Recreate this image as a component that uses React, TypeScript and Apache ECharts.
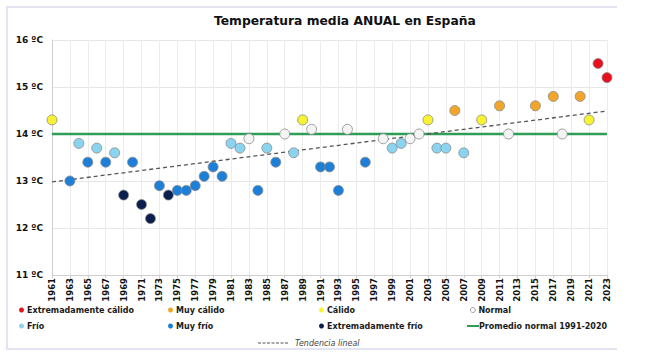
import React, { useEffect, useRef } from "react";
import * as echarts from "echarts";

const years: string[] = Array.from({ length: 63 }, (_, i) => String(1961 + i));

const extCalido: [string, number][] = [["2022", 15.5], ["2023", 15.2]];
const muyCalido: [string, number][] = [["2006", 14.5], ["2011", 14.6], ["2015", 14.6], ["2017", 14.8], ["2020", 14.8]];
const calido: [string, number][] = [["1961", 14.3], ["1989", 14.3], ["2003", 14.3], ["2009", 14.3], ["2021", 14.3]];
const normal: [string, number][] = [["1983", 13.9], ["1987", 14.0], ["1990", 14.1], ["1994", 14.1], ["1998", 13.9], ["2001", 13.9], ["2002", 14.0], ["2012", 14.0], ["2018", 14.0]];
const frio: [string, number][] = [["1964", 13.8], ["1966", 13.7], ["1968", 13.6], ["1981", 13.8], ["1982", 13.7], ["1985", 13.7], ["1988", 13.6], ["1999", 13.7], ["2000", 13.8], ["2004", 13.7], ["2005", 13.7], ["2007", 13.6]];
const muyFrio: [string, number][] = [["1963", 13.0], ["1965", 13.4], ["1967", 13.4], ["1970", 13.4], ["1973", 12.9], ["1975", 12.8], ["1976", 12.8], ["1977", 12.9], ["1978", 13.1], ["1979", 13.3], ["1980", 13.1], ["1984", 12.8], ["1986", 13.4], ["1991", 13.3], ["1992", 13.3], ["1993", 12.8], ["1996", 13.4]];
const extFrio: [string, number][] = [["1969", 12.7], ["1971", 12.5], ["1972", 12.2], ["1974", 12.7]];
const promedio: [string, number][] = [["1961", 14.0], ["2023", 14.0]];
const tendencia: [string, number][] = [["1961", 12.98], ["2023", 14.49]];

const FONT = "DejaVu Sans";
const DASH_ICON =
  "path://M0,0h3v1h-3z M4.5,0h3v1h-3z M9,0h3v1h-3z M13.5,0h3v1h-3z M18,0h3v1h-3z M22.5,0h3v1h-3z M27,0h3v1h-3z";

export default function App() {
  const ref = useRef<HTMLDivElement>(null);
  useEffect(() => {
    if (!ref.current) return;
    const chart = echarts.init(ref.current, undefined, { renderer: "svg" });
    const scatter = (name: string, data: [string, number][], color: string) => ({
      name,
      type: "scatter",
      data,
      symbol: "circle",
      symbolSize: 10,
      itemStyle: { color, borderColor: "#8a8a8a", borderWidth: 0.8, opacity: 1 },
      z: 5,
    });
    const legendBase = {
      selectedMode: false,
      itemWidth: 5,
      itemHeight: 5,
      itemGap: 0,
      padding: 0,
      itemStyle: { borderWidth: 0 },
      textStyle: { fontFamily: FONT, fontWeight: "bold", fontSize: 8, color: "#1a1a1a", padding: [0, 0, 0, -2] },
    };
    const leg = (name: string, left: number, top: number, itemStyle?: any) => ({
      ...legendBase,
      data: [{ name, icon: "circle", ...(itemStyle ? { itemStyle } : {}) }],
      left,
      top,
    });
    chart.setOption({
      animation: false,
      backgroundColor: "#ffffff",
      title: {
        text: "Temperatura media ANUAL en España",
        left: 214,
        top: 15,
        padding: 0,
        textStyle: { fontFamily: FONT, fontWeight: "bold", fontSize: 12.3, color: "#111" },
      },
      grid: { left: 52, right: 41, top: 40, bottom: 82, containLabel: false },
      xAxis: {
        type: "category",
        data: years,
        boundaryGap: false,
        axisLine: { show: true, lineStyle: { color: "#cfcfcf" } },
        axisTick: { show: true, interval: 1, length: 3, lineStyle: { color: "#cfcfcf" } },
        axisLabel: {
          interval: 1,
          rotate: 90,
          margin: 3,
          fontFamily: FONT,
          fontWeight: "bold",
          fontSize: 8.5,
          color: "#111",
        },
        splitLine: { show: true, interval: 1, lineStyle: { color: "#ececec", width: 1 } },
      },
      yAxis: {
        type: "value",
        min: 11,
        max: 16,
        interval: 1,
        axisLine: { show: true, lineStyle: { color: "#cfcfcf" } },
        axisTick: { show: false },
        axisLabel: {
          formatter: "{value} ºC",
          margin: 9,
          fontFamily: FONT,
          fontWeight: "bold",
          fontSize: 9,
          color: "#111",
        },
        splitLine: { show: true, lineStyle: { color: "#e6e6e6", width: 1 } },
      },
      legend: [
        leg("Extremadamente cálido", 19, 306),
        leg("Muy cálido", 168, 306),
        leg("Cálido", 319, 306),
        leg("Normal", 470, 306, { color: "#ffffff", borderColor: "#888888", borderWidth: 0.8 }),
        leg("Frío", 19, 322),
        leg("Muy frío", 168, 322),
        leg("Extremadamente frío", 319, 322),
        {
          ...legendBase,
          data: [{ name: "Promedio normal 1991-2020", icon: "rect" }],
          left: 467,
          top: 322,
          itemWidth: 12,
          itemHeight: 2,
          textStyle: { ...legendBase.textStyle, padding: [0, 0, 0, -5] },
        },
        {
          ...legendBase,
          data: [{ name: "Tendencia lineal", icon: DASH_ICON }],
          left: 258,
          top: 339,
          itemWidth: 30,
          itemHeight: 1,
          textStyle: { fontFamily: FONT, fontStyle: "italic", fontSize: 8, color: "#444", padding: [0, 0, 0, 2] },
        },
      ],
      graphic: [
        {
          type: "polyline",
          shape: { points: [[617, 7], [7, 7], [7, 349], [617, 349]] },
          style: { stroke: "#e3e3f1", lineWidth: 2, fill: null },
          silent: true,
          z: -1,
        },
      ],
      series: [
        {
          name: "Promedio normal 1991-2020",
          type: "line",
          data: promedio,
          symbol: "none",
          lineStyle: { color: "#2e9d55", width: 2.5 },
          itemStyle: { color: "#2e9d55" },
          z: 3,
        },
        {
          name: "Tendencia lineal",
          type: "line",
          data: tendencia,
          symbol: "none",
          lineStyle: { color: "#555", width: 1.3, type: [4, 3] },
          itemStyle: { color: "#555" },
          z: 4,
        },
        scatter("Extremadamente cálido", extCalido, "#e8101c"),
        scatter("Muy cálido", muyCalido, "#f2a52a"),
        scatter("Cálido", calido, "#f8f232"),
        scatter("Normal", normal, "#f4f4f4"),
        scatter("Frío", frio, "#8ad4f0"),
        scatter("Muy frío", muyFrio, "#1d7fd8"),
        scatter("Extremadamente frío", extFrio, "#0b1f4f"),
      ],
    });
    return () => chart.dispose();
  }, []);
  return (
    <div
      ref={ref}
      style={{ position: "absolute", left: 0, top: 0, width: 648, height: 357 }}
    />
  );
}
